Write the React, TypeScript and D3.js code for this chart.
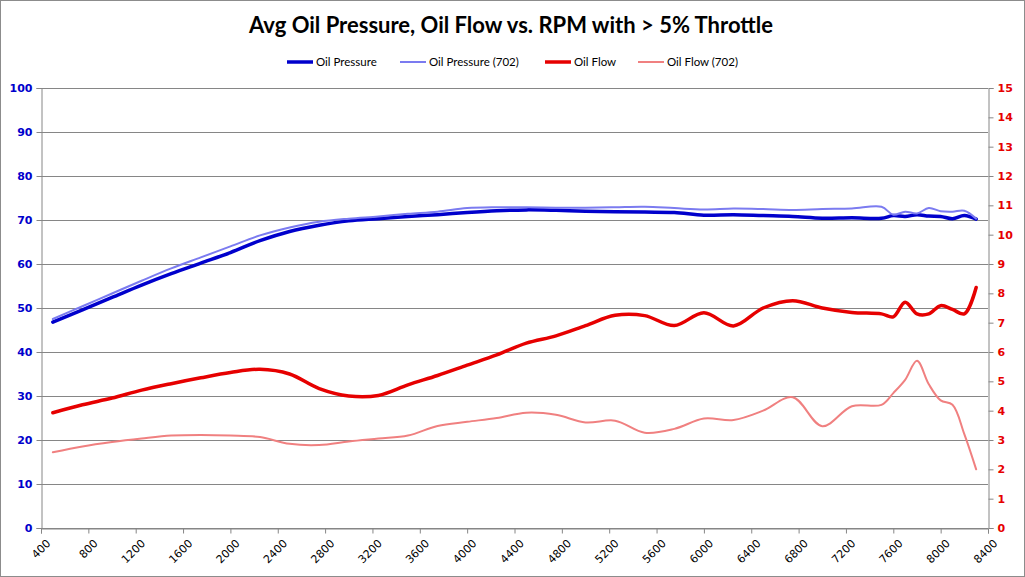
import React, { useEffect, useRef } from 'react';
import * as d3 from 'd3';

// RPM samples (x) shared by every series
const RPM = [
  500, 750, 1000, 1250, 1500, 1750, 2000, 2250, 2500, 2750, 3000, 3250, 3500, 3750,
  4000, 4250, 4500, 4750, 5000, 5250, 5500, 5750, 6000, 6250, 6500, 6750, 7000, 7250,
  7500, 7600, 7700, 7800, 7900, 8000, 8100, 8200, 8300,
];

// left axis (psi)
const OIL_PRESSURE = [
  46.8, 49.6, 52.4, 55.2, 57.8, 60.2, 62.6, 65.3, 67.4, 68.8, 69.8, 70.3, 70.8, 71.2,
  71.7, 72.1, 72.3, 72.2, 72.0, 71.9, 71.8, 71.7, 71.1, 71.2, 71.0, 70.8, 70.4, 70.5,
  70.4, 71.0, 70.8, 71.2, 70.9, 70.8, 70.3, 71.0, 70.2,
];
const OIL_PRESSURE_702 = [
  47.5, 50.4, 53.3, 56.2, 59.0, 61.5, 64.0, 66.5, 68.3, 69.6, 70.3, 70.8, 71.4, 71.9,
  72.7, 72.9, 72.9, 72.8, 72.8, 72.9, 73.0, 72.7, 72.4, 72.6, 72.5, 72.3, 72.5, 72.6,
  73.0, 71.2, 71.9, 71.5, 72.7, 72.0, 71.9, 72.1, 70.3,
];

// right axis (flow)
const OIL_FLOW = [
  3.93, 4.2, 4.43, 4.7, 4.92, 5.12, 5.3, 5.41, 5.25, 4.75, 4.5, 4.52, 4.88, 5.2,
  5.55, 5.9, 6.3, 6.55, 6.9, 7.25, 7.24, 6.9, 7.34, 6.89, 7.5, 7.75, 7.5, 7.35,
  7.3, 7.2, 7.7, 7.3, 7.3, 7.58, 7.45, 7.3, 8.2,
];
const OIL_FLOW_702 = [
  2.58, 2.78, 2.93, 3.05, 3.15, 3.17, 3.15, 3.1, 2.87, 2.83, 2.95, 3.05, 3.15, 3.48,
  3.62, 3.75, 3.93, 3.86, 3.6, 3.66, 3.25, 3.38, 3.73, 3.68, 4.0, 4.46, 3.47, 4.15,
  4.2, 4.6, 5.05, 5.7, 4.9, 4.35, 4.2, 3.2, 2.0,
];

const X_TICKS = d3.range(400, 8401, 400);
const LEFT_TICKS = d3.range(0, 101, 10);
const RIGHT_TICKS = d3.range(0, 16, 1);

const TITLE = 'Avg Oil Pressure, Oil Flow vs. RPM with > 5% Throttle';

const SERIES = [
  { name: 'Oil Pressure', values: OIL_PRESSURE, axis: 'left', color: '#0000cc', width: 3.5 },
  { name: 'Oil Pressure (702)', values: OIL_PRESSURE_702, axis: 'left', color: '#7b7bf0', width: 2 },
  { name: 'Oil Flow', values: OIL_FLOW, axis: 'right', color: '#e60000', width: 3.5 },
  { name: 'Oil Flow (702)', values: OIL_FLOW_702, axis: 'right', color: '#f08080', width: 2 },
];

const W = 1025;
const H = 577;
const margin = { top: 88, right: 37, bottom: 49, left: 41 };

export default function App() {
  const svgRef = useRef<SVGSVGElement>(null);

  useEffect(() => {
    document.body.style.margin = '0';
    if (!svgRef.current) return;
    const svg = d3.select(svgRef.current);
    svg.selectAll('*').remove();

    const innerW = W - margin.left - margin.right;
    const innerH = H - margin.top - margin.bottom;

    const x = d3.scaleLinear().domain([400, 8400]).range([0, innerW]);
    const yL = d3.scaleLinear().domain([0, 100]).range([innerH, 0]);
    const yR = d3.scaleLinear().domain([0, 15]).range([innerH, 0]);

    // background + outer border
    svg.append('rect')
      .attr('x', 0.5).attr('y', 0.5)
      .attr('width', W - 1).attr('height', H - 1)
      .attr('fill', '#fff')
      .attr('stroke', '#8c8c8c');

    // title
    svg.append('text')
      .attr('x', 511)
      .attr('y', 33)
      .attr('text-anchor', 'middle')
      .attr('font-family', 'Lato, "Open Sans", sans-serif')
      .attr('font-weight', 'bold')
      .attr('font-size', '22px')
      .attr('fill', '#000')
      .text(TITLE);

    // legend
    const legendX = [287, 400, 545, 638];
    SERIES.forEach((s, i) => {
      const lg = svg.append('g').attr('transform', `translate(${legendX[i]},62)`);
      lg.append('line')
        .attr('x1', 0).attr('x2', 26)
        .attr('y1', 0).attr('y2', 0)
        .attr('stroke', s.color)
        .attr('stroke-width', s.width);
      lg.append('text')
        .attr('x', 29)
        .attr('y', 4)
        .attr('font-family', 'Lato, "Open Sans", sans-serif')
        .attr('font-size', '11.5px')
        .attr('fill', '#000')
        .text(s.name);
    });

    const g = svg.append('g').attr('transform', `translate(${margin.left},${margin.top})`);

    // horizontal grid (left axis)
    g.append('g')
      .selectAll('line')
      .data(LEFT_TICKS)
      .enter()
      .append('line')
      .attr('x1', 0).attr('x2', innerW)
      .attr('y1', d => Math.round(yL(d)) + 0.5)
      .attr('y2', d => Math.round(yL(d)) + 0.5)
      .attr('stroke', '#868686')
      .attr('stroke-width', 1);

    const tickFont = 'Verdana, "DejaVu Sans", sans-serif';

    // left axis
    g.append('g')
      .attr('transform', 'translate(0.5,0)')
      .call(d3.axisLeft(yL).tickValues(LEFT_TICKS).tickSize(5).tickPadding(4))
      .call(a => a.select('.domain').attr('stroke', '#868686'))
      .call(a => a.selectAll('.tick line').attr('stroke', '#868686'))
      .call(a => a.selectAll('.tick text')
        .attr('fill', '#0000cc')
        .attr('font-weight', 'bold')
        .attr('font-size', '11px')
        .attr('font-family', tickFont));

    // right axis
    g.append('g')
      .attr('transform', `translate(${innerW + 0.5},0)`)
      .call(d3.axisRight(yR).tickValues(RIGHT_TICKS).tickSize(5).tickPadding(4))
      .call(a => a.select('.domain').attr('stroke', '#868686'))
      .call(a => a.selectAll('.tick line').attr('stroke', '#868686'))
      .call(a => a.selectAll('.tick text')
        .attr('fill', '#e60000')
        .attr('font-weight', 'bold')
        .attr('font-size', '11px')
        .attr('font-family', tickFont));

    // bottom axis
    g.append('g')
      .attr('transform', `translate(0,${innerH + 0.5})`)
      .call(d3.axisBottom(x).tickValues(X_TICKS).tickSize(5).tickFormat(d3.format('d')))
      .call(a => a.select('.domain').attr('stroke', '#868686'))
      .call(a => a.selectAll('.tick line').attr('stroke', '#868686'))
      .call(a => a.selectAll('.tick text')
        .attr('fill', '#000')
        .attr('font-size', '11px')
        .attr('font-family', tickFont)
        .attr('text-anchor', 'end')
        .attr('dy', '0')
        .attr('transform', 'translate(4,10) rotate(-45)'));

    // series
    SERIES.forEach(s => {
      const y = s.axis === 'left' ? yL : yR;
      const line = d3.line<number>()
        .x((_, i) => x(RPM[i]))
        .y(d => y(d))
        .curve(d3.curveCatmullRom.alpha(0.5));
      g.append('path')
        .datum(s.values)
        .attr('d', line)
        .attr('fill', 'none')
        .attr('stroke', s.color)
        .attr('stroke-width', s.width)
        .attr('stroke-linejoin', 'round')
        .attr('stroke-linecap', 'round');
    });
  }, []);

  return <svg ref={svgRef} width={W} height={H} style={{ display: 'block' }} />;
}
